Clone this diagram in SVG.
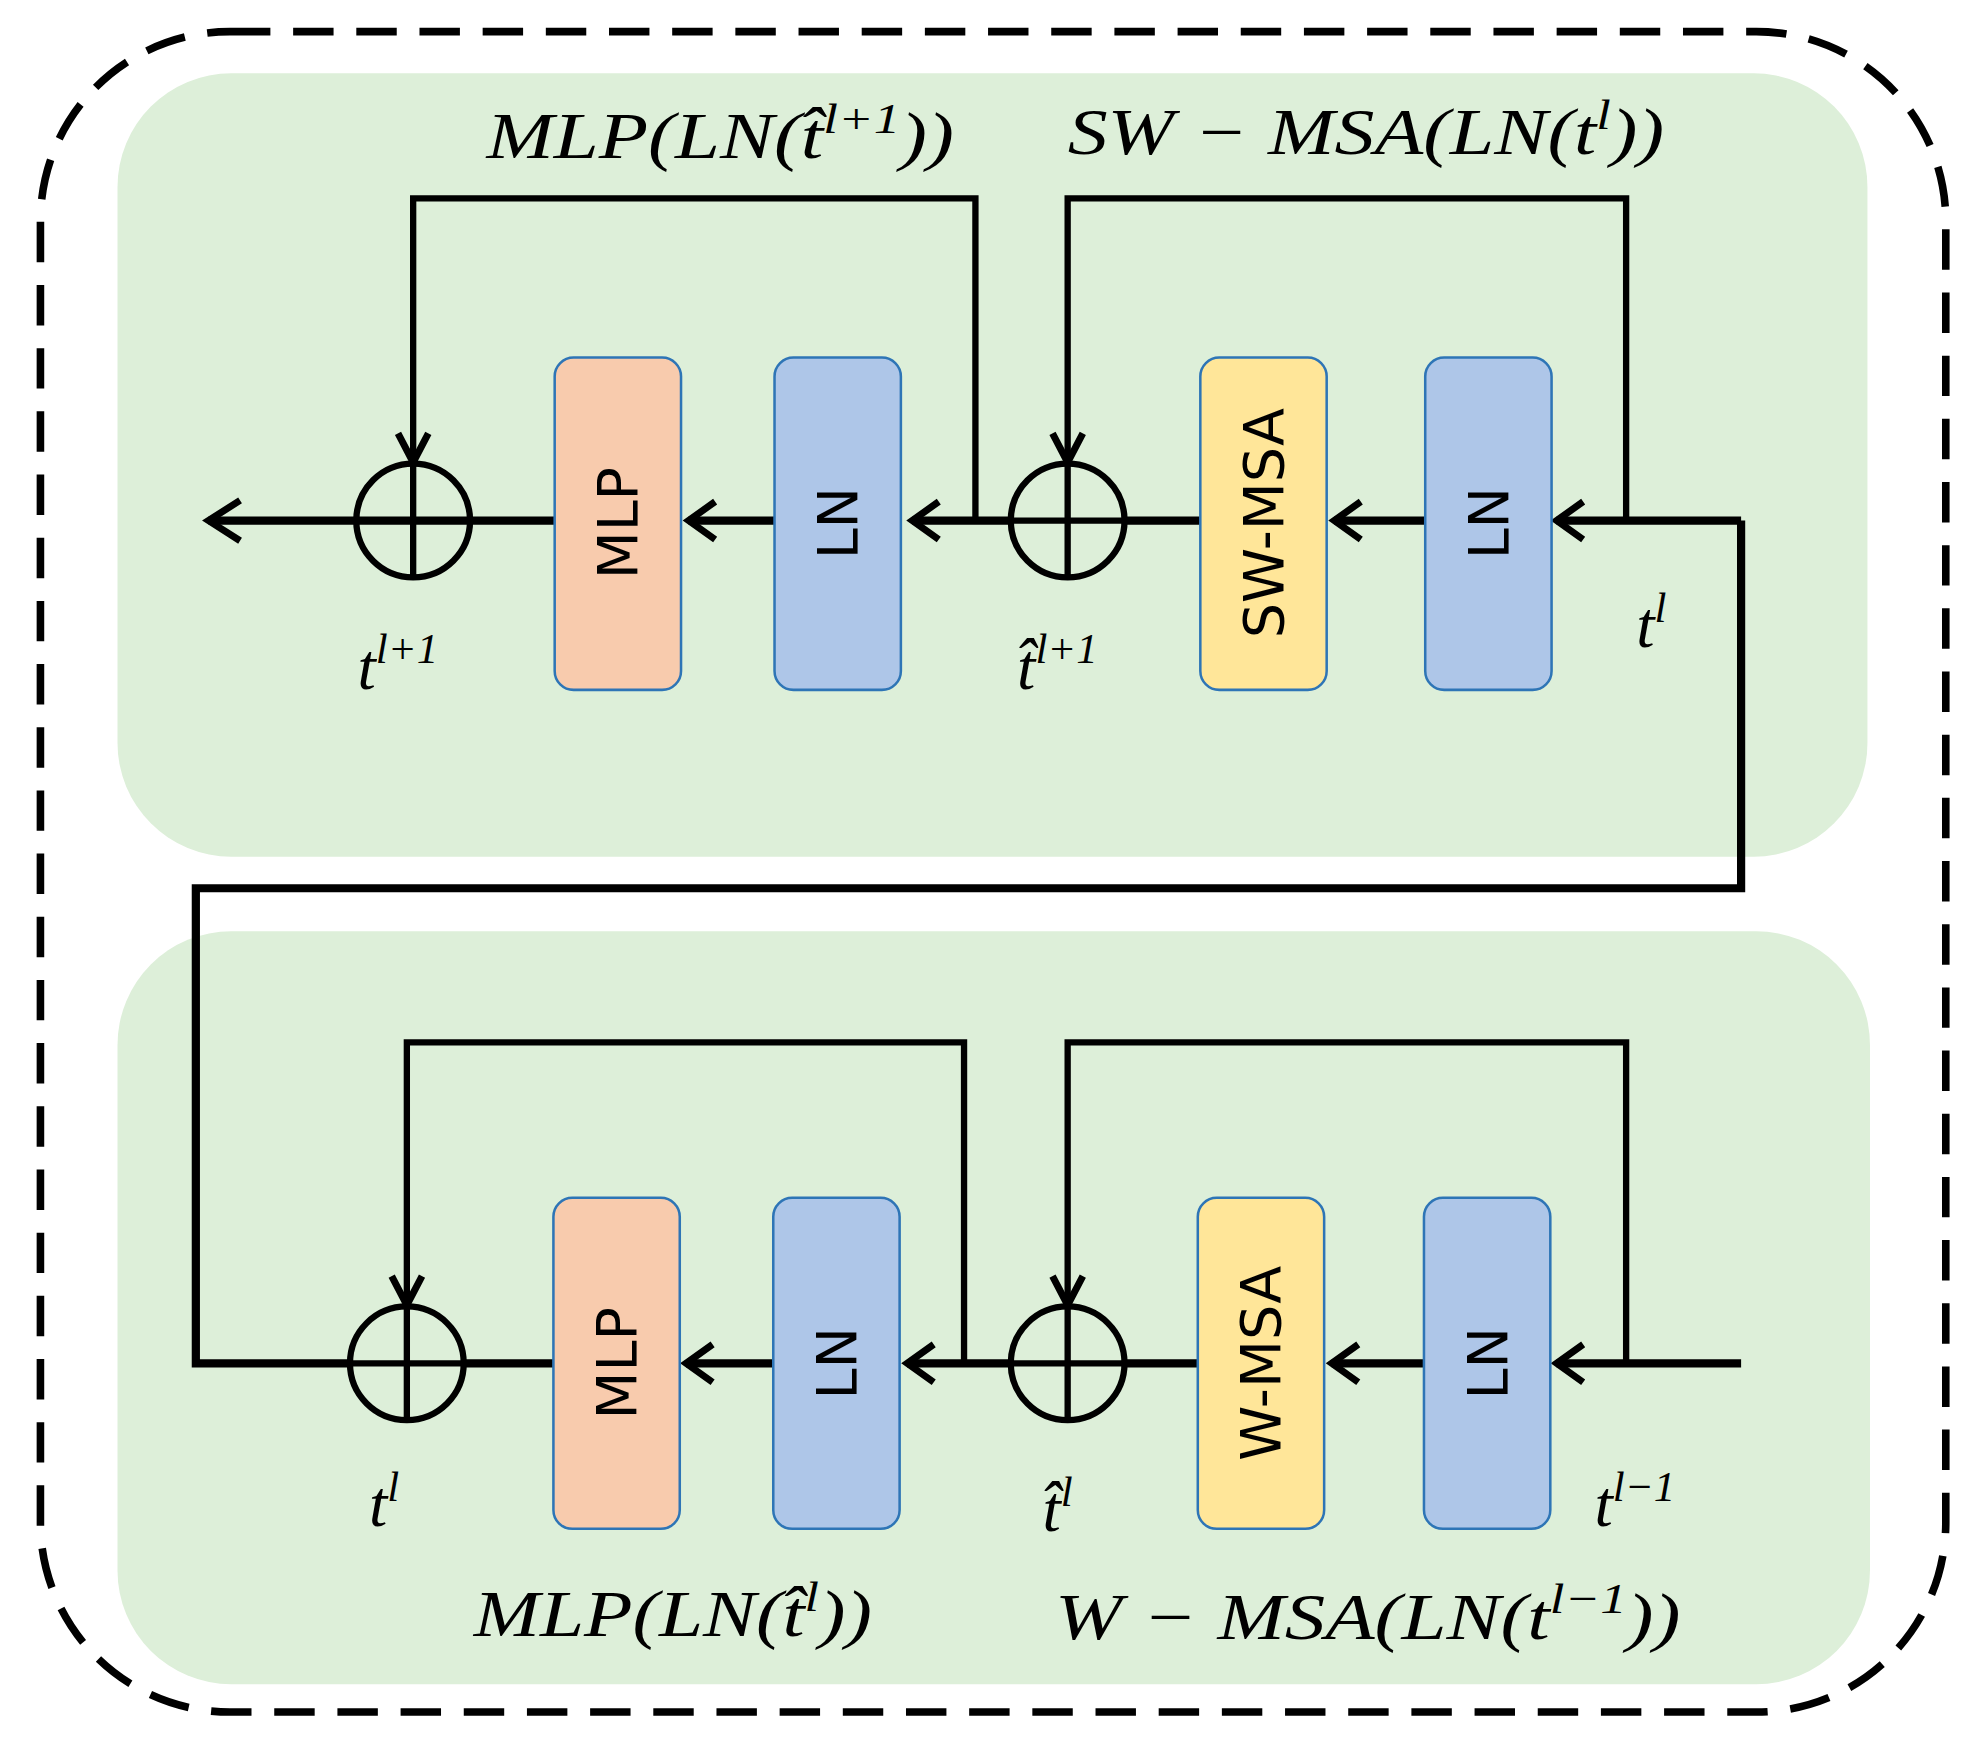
<svg xmlns="http://www.w3.org/2000/svg" width="1971" height="1757" viewBox="0 0 1971 1757">
<style>
.panel{fill:#DDEFD9;stroke:none}
.box{stroke:#2E75B6;stroke-width:2}
.mlp{fill:#F8CBAD}.ln{fill:#AEC6E8}.msa{fill:#FFE699}
.bt{font-family:"DejaVu Sans",sans-serif;font-size:44px;fill:#000;text-anchor:middle;dominant-baseline:central}
.m{font-family:"Liberation Serif",serif;font-style:italic;font-size:52px;fill:#000}
.sup{font-size:34px}
.w{fill:none;stroke:#000;stroke-width:6.5}
.s{fill:none;stroke:#000;stroke-width:5}
.ah{fill:none;stroke:#000;stroke-width:5.5}
</style>
<rect width="1971" height="1757" fill="#fff"/>
<g transform="scale(1.2635)">
<rect x="32" y="25" width="1508" height="1330" rx="150" fill="none" stroke="#000" stroke-width="6" stroke-dasharray="32 18"/>
<rect class="panel" x="93" y="58" width="1385" height="620" rx="90"/>
<rect class="panel" x="93" y="737" width="1387" height="596" rx="90"/>
<g id="connectors">
<path class="w" d="M1378 412H1232M1128 412H1056M950 412H890M800 412H722M613 412H545M439 412H165"/>
<path class="s" d="M772 412V157H327V365M1287 412V157H845V365"/>
<path class="w" d="M1378 412V703H155V1079H277M1378 1079H1232M1127 1079H1054M948 1079H890M800 1079H718M612 1079H543M438 1079H367"/>
<path class="s" d="M763 1079V825H322V1032M1287 1079V825H845V1032"/>
<g class="ah">
<path d="M190 396L165 412L190 428"/>
<path d="M566 397L545 412L566 427"/><path d="M743 397L722 412L743 427"/><path d="M1077 397L1056 412L1077 427"/><path d="M1253 397L1232 412L1253 427"/>
<path d="M564 1064L543 1079L564 1094"/><path d="M739 1064L718 1079L739 1094"/><path d="M1075 1064L1054 1079L1075 1094"/><path d="M1253 1064L1232 1079L1253 1094"/>
<path d="M315 343L327 366L339 343"/><path d="M833 343L845 366L857 343"/>
<path d="M310 1010L322 1033L334 1010"/><path d="M833 1010L845 1033L857 1010"/>
</g>
</g>
<g id="add1" class="s"><circle cx="327" cy="412" r="45"/><path d="M282 412H372M327 367V457"/></g>
<g id="add2" class="s"><circle cx="845" cy="412" r="45"/><path d="M800 412H890M845 367V457"/></g>
<g id="add3" class="s"><circle cx="322" cy="1079" r="45"/><path d="M277 1079H367M322 1034V1124"/></g>
<g id="add4" class="s"><circle cx="845" cy="1079" r="45"/><path d="M800 1079H890M845 1034V1124"/></g>
<g id="mlp1"><rect class="box mlp" x="439" y="283" width="100" height="263" rx="15"/><text class="bt" transform="translate(489 414) rotate(-90)">MLP</text></g>
<g id="ln1"><rect class="box ln" x="613" y="283" width="100" height="263" rx="15"/><text class="bt" transform="translate(663 414) rotate(-90)">LN</text></g>
<g id="swmsa"><rect class="box msa" x="950" y="283" width="100" height="263" rx="15"/><text class="bt" transform="translate(1000 414) rotate(-90)">SW-MSA</text></g>
<g id="ln2"><rect class="box ln" x="1128" y="283" width="100" height="263" rx="15"/><text class="bt" transform="translate(1178 414) rotate(-90)">LN</text></g>
<g id="mlp2"><rect class="box mlp" x="438" y="948" width="100" height="262" rx="15"/><text class="bt" transform="translate(488 1079) rotate(-90)">MLP</text></g>
<g id="ln3"><rect class="box ln" x="612" y="948" width="100" height="262" rx="15"/><text class="bt" transform="translate(662 1079) rotate(-90)">LN</text></g>
<g id="wmsa"><rect class="box msa" x="948" y="948" width="100" height="262" rx="15"/><text class="bt" transform="translate(998 1079) rotate(-90)">W-MSA</text></g>
<g id="ln4"><rect class="box ln" x="1127" y="948" width="100" height="262" rx="15"/><text class="bt" transform="translate(1177 1079) rotate(-90)">LN</text></g>
<g id="labels">
<text class="m" x="385" y="125" textLength="370" lengthAdjust="spacingAndGlyphs">MLP(LN(t̂<tspan class="sup" dy="-20">l+1</tspan><tspan dy="20">))</tspan></text>
<text class="m" x="845" y="122" textLength="472" lengthAdjust="spacingAndGlyphs">SW − MSA(LN(t<tspan class="sup" dy="-20">l</tspan><tspan dy="20">))</tspan></text>
<text class="m" x="283" y="545">t<tspan class="sup" dy="-20">l+1</tspan></text>
<text class="m" x="805" y="545">t̂<tspan class="sup" dy="-20">l+1</tspan></text>
<text class="m" x="1295" y="512">t<tspan class="sup" dy="-20">l</tspan></text>
<text class="m" x="292" y="1208">t<tspan class="sup" dy="-20">l</tspan></text>
<text class="m" x="825" y="1212">t̂<tspan class="sup" dy="-20">l</tspan></text>
<text class="m" x="1262" y="1208">t<tspan class="sup" dy="-20">l−1</tspan></text>
<text class="m" x="375" y="1295" textLength="315" lengthAdjust="spacingAndGlyphs">MLP(LN(t̂<tspan class="sup" dy="-20">l</tspan><tspan dy="20">))</tspan></text>
<text class="m" x="835" y="1297" textLength="495" lengthAdjust="spacingAndGlyphs">W − MSA(LN(t<tspan class="sup" dy="-20">l−1</tspan><tspan dy="20">))</tspan></text>
</g>
</g>
</svg>
